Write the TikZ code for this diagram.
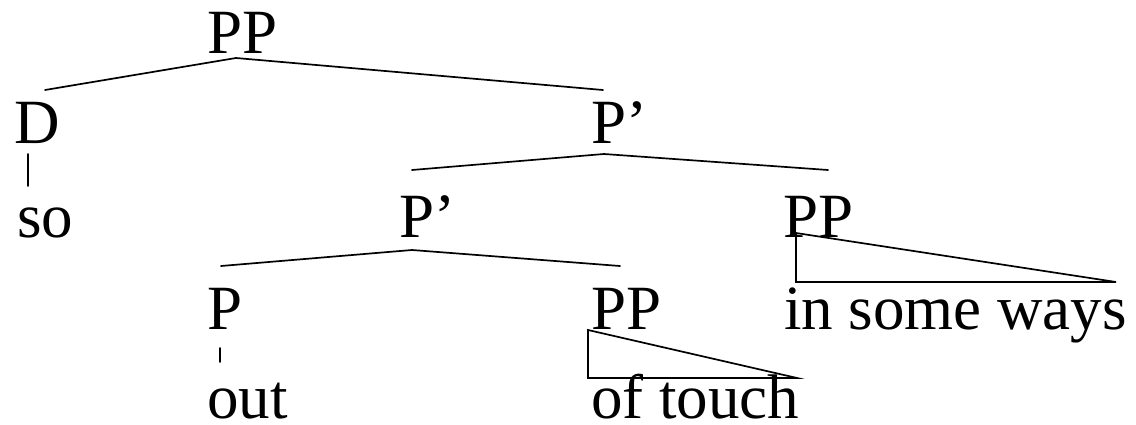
\documentclass[tikz,border=0pt]{standalone}
\usepackage{fontspec}
\setmainfont{Liberation Serif}
\begin{document}
\begin{tikzpicture}[x=1pt,y=-1pt,
  lbl/.style={inner sep=0pt,outer sep=0pt,anchor=base west,font=\fontsize{63}{70}\selectfont},
  branch/.style={line width=1.7pt,line cap=round,line join=miter}]
\useasboundingbox (0,0) rectangle (1136,425);

% category labels and words
\node[lbl] (pp0)   at (207,54)  {PP};
\node[lbl] (d)     at (14,144)  {D};
\node[lbl] (pbar1) at (591,144) {P’};
\node[lbl] (so)    at (17,237)  {so};
\node[lbl] (pbar2) at (399,237) {P’};
\node[lbl] (pp2)   at (783,237) {PP};
\node[lbl] (p)     at (207,329) {P};
\node[lbl] (pp1)   at (591,329) {PP};
\node[lbl] (ways)  at (784,329) {in some ways};
\node[lbl] (out)   at (207,418) {out};
\node[lbl] (touch) at (591,418) {of touch};

% branch points
\coordinate (pp0-top)   at (236,58);
\coordinate (d-top)     at (45,90);
\coordinate (pbar1-top) at (603,90);
\coordinate (pbar1-bot) at (604,154);
\coordinate (pbar2-top) at (412,170);
\coordinate (pp2-top)   at (828,170);
\coordinate (pbar2-bot) at (412,250);
\coordinate (p-top)     at (221,266);
\coordinate (pp1-top)   at (620,266);
\coordinate (d-bot)     at (28,154);
\coordinate (so-top)    at (28,186);
\coordinate (p-bot)     at (220,348);
\coordinate (out-top)   at (220,362);
\coordinate (pp2-bot)   at (796,233);
\coordinate (ways-l)    at (796,282);
\coordinate (ways-r)    at (1116,282);
\coordinate (pp1-bot)   at (588,330);
\coordinate (touch-l)   at (588,378);
\coordinate (touch-r)   at (797,378);

% branches
\draw[branch] (d-top) -- (pp0-top) -- (pbar1-top);
\draw[branch] (pbar2-top) -- (pbar1-bot) -- (pp2-top);
\draw[branch] (p-top) -- (pbar2-bot) -- (pp1-top);
\draw[branch] (d-bot) -- (so-top);
\draw[branch] (p-bot) -- (out-top);

% triangles over unanalysed phrases
\draw[branch] (pp2-bot) -- (ways-l) -- (ways-r) -- cycle;
\draw[branch] (pp1-bot) -- (touch-l) -- (touch-r) -- cycle;
\end{tikzpicture}
\end{document}
